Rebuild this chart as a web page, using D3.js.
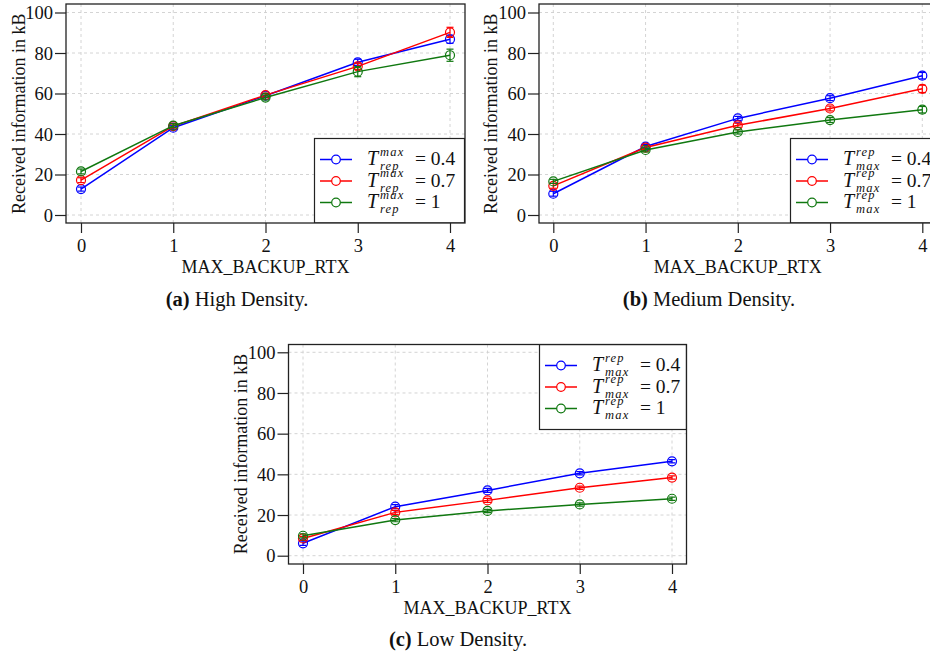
<!DOCTYPE html>
<html>
<head>
<meta charset="utf-8">
<script src="https://cdn.jsdelivr.net/npm/d3@7"></script>
<style>
  html, body { margin: 0; padding: 0; background: #fff; }
  svg { display: block; }
</style>
</head>
<body>
<svg id="chart" width="930" height="657"></svg>
<script>
// ---------- DATA ----------
const xValues = [0, 1, 2, 3, 4];
const xTickLabels = ["0", "1", "2", "3", "4"];
const yTickValues = [0, 20, 40, 60, 80, 100];
const xAxisTitle = "MAX_BACKUP_RTX";
const yAxisTitle = "Received information in kB";
const seriesValuesLabels = ["0.4", "0.7", "1"];

// (a) High Density
const highBlue = [12.8, 43.1, 58.9, 75.4, 86.8];
const highRed = [17.2, 43.9, 59.2, 73.4, 90.2];
const highGreen = [21.5, 44.1, 58.0, 70.8, 78.9];
const highBlueErr = [1.0, 1.0, 1.0, 1.5, 2.0];
const highRedErr = [1.2, 1.0, 1.0, 1.5, 2.5];
const highGreenErr = [1.2, 1.0, 1.2, 2.5, 3.0];

// (b) Medium Density
const medBlue = [10.5, 33.8, 47.7, 57.7, 68.8];
const medRed = [14.4, 33.3, 44.3, 52.6, 62.3];
const medGreen = [16.6, 32.1, 41.0, 46.9, 52.0];
const medBlueErr = [1.2, 1.0, 1.0, 1.2, 1.6];
const medRedErr = [1.2, 1.0, 1.0, 1.2, 1.8];
const medGreenErr = [1.0, 1.0, 1.0, 1.2, 1.6];

// (c) Low Density
const lowBlue = [6.1, 24.1, 32.1, 40.5, 46.4];
const lowRed = [8.5, 21.3, 27.2, 33.4, 38.4];
const lowGreen = [9.8, 17.5, 22.0, 25.2, 28.0];
const lowBlueErr = [1.0, 1.0, 1.0, 0.8, 0.8];
const lowRedErr = [1.0, 1.0, 1.0, 0.8, 0.8];
const lowGreenErr = [1.0, 0.8, 0.8, 0.8, 0.8];

const captionsBold = ["(a)", "(b)", "(c)"];
const captionsText = ["High Density.", "Medium Density.", "Low Density."];

// ---------- STYLE / LAYOUT ----------
const colors = ["#0000ff", "#ff0000", "#107810"];
const serif = "'Liberation Serif', 'Times New Roman', serif";

const panels = [
  { frame: [66, 4, 465, 223], xr: [81, 450], yr: [215, 12.5],
    series: [highBlue, highRed, highGreen], errs: [highBlueErr, highRedErr, highGreenErr],
    legend: { x: 314.5, y: 138.5, w: 150, h: 84.5 }, sup: "max", sub: "rep",
    ylabX: 24.5, caption: { x: 237, y: 306 }, cap: 0 },
  { frame: [539, 4, 940, 223], xr: [553.3, 922.3], yr: [215, 12.5],
    series: [medBlue, medRed, medGreen], errs: [medBlueErr, medRedErr, medGreenErr],
    legend: { x: 790.5, y: 138.5, w: 150, h: 84.5 }, sup: "rep", sub: "max",
    ylabX: 497, caption: { x: 709, y: 306 }, cap: 1 },
  { frame: [288.5, 344.5, 686.5, 564], xr: [303, 672], yr: [555.7, 352.3],
    series: [lowBlue, lowRed, lowGreen], errs: [lowBlueErr, lowRedErr, lowGreenErr],
    legend: { x: 539.5, y: 344.5, w: 147, h: 85 }, sup: "rep", sub: "max",
    ylabX: 247, caption: { x: 458, y: 646 }, cap: 2 }
];

const svg = d3.select("#chart");

panels.forEach((p, pi) => {
  const [fl, ft, fr, fb] = p.frame;
  const x = d3.scaleLinear().domain([0, 4]).range(p.xr);
  const y = d3.scaleLinear().domain([0, 100]).range(p.yr);
  const g = svg.append("g");

  const clipId = "clip" + pi;
  g.append("clipPath").attr("id", clipId)
    .append("rect").attr("x", fl).attr("y", ft).attr("width", fr - fl).attr("height", fb - ft);

  const inner = g.append("g").attr("clip-path", `url(#${clipId})`);

  // grid
  inner.selectAll(".hg").data(yTickValues).join("line")
    .attr("x1", fl).attr("x2", fr)
    .attr("y1", d => y(d)).attr("y2", d => y(d))
    .attr("stroke", "#cfcfcf").attr("stroke-width", 0.9).attr("stroke-dasharray", "3,3");
  inner.selectAll(".vg").data(xValues).join("line")
    .attr("x1", d => x(d)).attr("x2", d => x(d))
    .attr("y1", ft).attr("y2", fb)
    .attr("stroke", "#cfcfcf").attr("stroke-width", 0.9).attr("stroke-dasharray", "3,3");

  // series
  const line = d3.line().x((d, i) => x(xValues[i])).y(d => y(d));
  p.series.forEach((vals, si) => {
    const c = colors[si];
    inner.append("path").datum(vals).attr("d", line)
      .attr("fill", "none").attr("stroke", c).attr("stroke-width", 1.5);
    const errs = p.errs[si];
    vals.forEach((v, i) => {
      const cx = x(xValues[i]);
      const lo = y(v - errs[i]), hi = y(v + errs[i]);
      inner.append("line").attr("x1", cx).attr("x2", cx).attr("y1", lo).attr("y2", hi)
        .attr("stroke", c).attr("stroke-width", 1.2);
      [lo, hi].forEach(yy => inner.append("line")
        .attr("x1", cx - 3.5).attr("x2", cx + 3.5).attr("y1", yy).attr("y2", yy)
        .attr("stroke", c).attr("stroke-width", 1.2));
    });
    inner.selectAll(null).data(vals).join("circle")
      .attr("cx", (d, i) => x(xValues[i])).attr("cy", d => y(d)).attr("r", 4.5)
      .attr("fill", "none").attr("stroke", c).attr("stroke-width", 1.2);
  });

  // legend
  const L = p.legend;
  inner.append("rect").attr("x", L.x).attr("y", L.y).attr("width", L.w).attr("height", L.h)
    .attr("fill", "#fff").attr("stroke", "#222").attr("stroke-width", 1.2);
  const rowY = [L.y + 21, L.y + 42.5, L.y + 64];
  seriesValuesLabels.forEach((lab, si) => {
    const ry = rowY[si];
    const lx = L.x + 5.5;
    inner.append("line").attr("x1", lx).attr("x2", lx + 32).attr("y1", ry).attr("y2", ry)
      .attr("stroke", colors[si]).attr("stroke-width", 1.5);
    inner.append("circle").attr("cx", lx + 16).attr("cy", ry).attr("r", 4.3)
      .attr("fill", "#fff").attr("stroke", colors[si]).attr("stroke-width", 1.2);
    const tx = lx + 47;
    const t = inner.append("text").attr("x", tx).attr("y", ry + 5.5)
      .attr("font-family", serif).attr("fill", "#111");
    t.append("tspan").attr("font-style", "italic").attr("font-size", 20).text("T");
    t.append("tspan").attr("x", tx + 13).attr("y", ry - 4)
      .attr("font-style", "italic").attr("font-size", 12.5).attr("letter-spacing", 1.2).text(p.sup);
    t.append("tspan").attr("x", tx + 13).attr("y", ry + 10.5)
      .attr("font-style", "italic").attr("font-size", 12.5).attr("letter-spacing", 1.2).text(p.sub);
    t.append("tspan").attr("x", tx + 48).attr("y", ry + 5.5)
      .attr("font-size", 19.5).text("= " + lab);
  });

  // frame
  g.append("rect").attr("x", fl).attr("y", ft).attr("width", fr - fl).attr("height", fb - ft)
    .attr("fill", "none").attr("stroke", "#222").attr("stroke-width", 1.3);

  // axes (ticks outside)
  const yAxis = d3.axisLeft(y).tickValues(yTickValues).tickSize(11).tickPadding(2).tickFormat(d3.format("d"));
  const ya = g.append("g").attr("transform", `translate(${fl},0)`).call(yAxis);
  ya.select(".domain").remove();
  ya.selectAll(".tick line").attr("stroke", "#222").attr("stroke-width", 1.2);
  ya.selectAll(".tick text").attr("font-family", serif).attr("font-size", 18.5).attr("fill", "#111")
    .attr("dy", "0.34em");

  const xAxis = d3.axisBottom(x).tickValues(xValues).tickSize(10).tickPadding(6)
    .tickFormat((d, i) => xTickLabels[i]);
  const xa = g.append("g").attr("transform", `translate(0,${fb})`).call(xAxis);
  xa.select(".domain").remove();
  xa.selectAll(".tick line").attr("stroke", "#222").attr("stroke-width", 1.2);
  xa.selectAll(".tick text").attr("font-family", serif).attr("font-size", 18.5).attr("fill", "#111");

  // axis titles
  g.append("text").attr("x", (p.xr[0] + p.xr[1]) / 2).attr("y", fb + 50)
    .attr("text-anchor", "middle").attr("font-family", serif).attr("font-size", 18)
    .attr("fill", "#111").text(xAxisTitle);
  g.append("text")
    .attr("transform", `translate(${p.ylabX},${(p.yr[0] + p.yr[1]) / 2}) rotate(-90)`)
    .attr("text-anchor", "middle").attr("font-family", serif).attr("font-size", 18)
    .attr("fill", "#111").text(yAxisTitle);

  // caption
  const cap = g.append("text").attr("x", p.caption.x).attr("y", p.caption.y)
    .attr("text-anchor", "middle").attr("font-family", serif).attr("font-size", 20.5).attr("fill", "#111");
  cap.append("tspan").attr("font-weight", "bold").text(captionsBold[p.cap]);
  cap.append("tspan").text(" " + captionsText[p.cap]);
});
</script>
</body>
</html>
